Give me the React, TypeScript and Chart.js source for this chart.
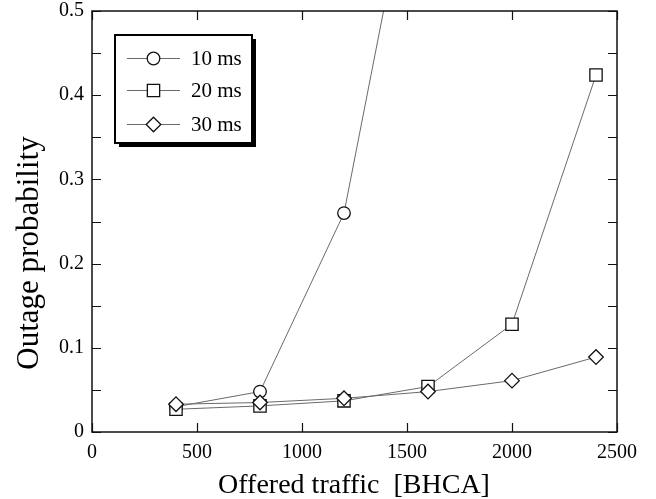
import React, { useEffect, useRef } from "react";
import { Chart, registerables } from "chart.js";

Chart.register(...registerables);

const traffic = [400, 800, 1200, 1600, 2000, 2400];
const series10ms = [0.03, 0.048, 0.26, 0.77];
const series20ms = [0.027, 0.031, 0.037, 0.054, 0.128, 0.424];
const series30ms = [0.033, 0.035, 0.04, 0.048, 0.061, 0.089];
const seriesNames = ["10 ms", "20 ms", "30 ms"];
const xTicks = [0, 500, 1000, 1500, 2000, 2500];
const yLabelTicks = [0, 0.1, 0.2, 0.3, 0.4, 0.5];
const xTitle = "Offered traffic  [BHCA]";
const yTitle = "Outage probability";

const FONT = '"Liberation Serif", "Times New Roman", serif';
const LINE = "#6a6a6a";
const MARK = "#111";

const styles = [
  { pointStyle: "circle", radius: 6.3 },
  { pointStyle: "rect", radius: 8.7 },
  { pointStyle: "rectRot", radius: 7.3 },
];

function toPoints(vals: number[]) {
  return vals.map((v, i) => ({ x: traffic[i], y: v }));
}

function drawMarker(ctx: CanvasRenderingContext2D, style: string, r: number, x: number, y: number) {
  ctx.beginPath();
  if (style === "circle") {
    ctx.arc(x, y, r, 0, Math.PI * 2);
  } else if (style === "rect") {
    const h = r * Math.SQRT1_2;
    ctx.rect(x - h, y - h, 2 * h, 2 * h);
  } else {
    ctx.moveTo(x - r, y);
    ctx.lineTo(x, y - r);
    ctx.lineTo(x + r, y);
    ctx.lineTo(x, y + r);
    ctx.closePath();
  }
  ctx.fill();
  ctx.stroke();
}

const framePlugin = {
  id: "frame",
  afterDatasetsDraw(chart: any) {
    const { ctx, chartArea: a, scales } = chart;
    const xs = scales.x;
    const ys = scales.y;
    ctx.save();
    ctx.strokeStyle = "#111";
    ctx.lineWidth = 1.5;
    ctx.strokeRect(a.left, a.top, a.right - a.left, a.bottom - a.top);
    const tl = 9;
    ctx.lineWidth = 1.2;
    ctx.beginPath();
    for (const v of xTicks) {
      const px = Math.round(xs.getPixelForValue(v)) + 0.5;
      ctx.moveTo(px, a.bottom);
      ctx.lineTo(px, a.bottom - tl);
      ctx.moveTo(px, a.top);
      ctx.lineTo(px, a.top + tl);
    }
    for (let k = 0; k <= 10; k++) {
      const py = Math.round(ys.getPixelForValue(k * 0.05)) + 0.5;
      ctx.moveTo(a.left, py);
      ctx.lineTo(a.left + tl, py);
      ctx.moveTo(a.right, py);
      ctx.lineTo(a.right - tl, py);
    }
    ctx.stroke();

    ctx.fillStyle = "#000";
    ctx.font = `28px ${FONT}`;
    ctx.textAlign = "center";
    ctx.textBaseline = "alphabetic";
    ctx.fillText(xTitle, 354, 493);
    ctx.save();
    ctx.font = `31px ${FONT}`;
    ctx.translate(38, 253);
    ctx.rotate(-Math.PI / 2);
    ctx.fillText(yTitle, 0, 0);
    ctx.restore();
    ctx.restore();
  },
  afterDraw(chart: any) {
    const { ctx } = chart;
    ctx.save();
    const bx = 115, by = 35, bw = 137, bh = 108;
    ctx.fillStyle = "#000";
    ctx.fillRect(bx + 4, by + 4, bw, bh);
    ctx.fillStyle = "#fff";
    ctx.fillRect(bx, by, bw, bh);
    ctx.strokeStyle = "#000";
    ctx.lineWidth = 2;
    ctx.strokeRect(bx, by, bw, bh);
    const rows = [58.5, 90.5, 124.5];
    seriesNames.forEach((name, i) => {
      const y = rows[i];
      ctx.strokeStyle = LINE;
      ctx.lineWidth = 1;
      ctx.beginPath();
      ctx.moveTo(127, y);
      ctx.lineTo(180, y);
      ctx.stroke();
      ctx.fillStyle = "#fff";
      ctx.strokeStyle = MARK;
      ctx.lineWidth = 1.3;
      drawMarker(ctx, styles[i].pointStyle, styles[i].radius, 153.5, y);
      ctx.fillStyle = "#000";
      ctx.font = `21px ${FONT}`;
      ctx.textAlign = "left";
      ctx.textBaseline = "middle";
      ctx.fillText(name, 191, y + 1);
    });
    ctx.restore();
  },
};

export default function App() {
  const ref = useRef<HTMLCanvasElement>(null);
  useEffect(() => {
    if (!ref.current) return;
    const all = [series10ms, series20ms, series30ms];
    const chart = new Chart(ref.current, {
      type: "line",
      data: {
        datasets: all.map((vals, i) => ({
          label: seriesNames[i],
          data: toPoints(vals),
          borderColor: LINE,
          borderWidth: 1,
          pointStyle: styles[i].pointStyle as any,
          pointRadius: styles[i].radius,
          pointBackgroundColor: "#fff",
          pointBorderColor: MARK,
          pointBorderWidth: 1.3,
          tension: 0,
          fill: false,
          order: 3 - i,
        })),
      },
      options: {
        animation: false,
        responsive: false,
        events: [],
        layout: { padding: { top: 11, right: 39, left: 0, bottom: 0 } },
        plugins: { legend: { display: false }, tooltip: { enabled: false } },
        scales: {
          x: {
            type: "linear",
            min: 0,
            max: 2500,
            grid: { display: false, drawTicks: false },
            border: { display: false },
            ticks: {
              stepSize: 500,
              color: "#000",
              font: { family: FONT, size: 20 },
              padding: 9,
              maxRotation: 0,
              callback: (v: any) => String(v),
            },
            afterFit: (s: any) => {
              s.height = 67;
              s.paddingLeft = 0;
              s.paddingRight = 0;
            },
          },
          y: {
            type: "linear",
            min: 0,
            max: 0.5,
            grid: { display: false, drawTicks: false },
            border: { display: false },
            ticks: {
              stepSize: 0.1,
              color: "#000",
              font: { family: FONT, size: 20 },
              padding: 8,
              callback: (v: any) => {
                const n = Math.round(Number(v) * 10) / 10;
                return yLabelTicks.includes(n) ? String(n) : "";
              },
            },
            afterFit: (s: any) => {
              s.width = 92;
              s.paddingTop = 0;
              s.paddingBottom = 0;
            },
          },
        },
      },
      plugins: [framePlugin],
    });
    return () => chart.destroy();
  }, []);
  return (
    <canvas
      ref={ref}
      width={656}
      height={499}
      style={{ position: "absolute", left: 0, top: 0, display: "block" }}
    />
  );
}
